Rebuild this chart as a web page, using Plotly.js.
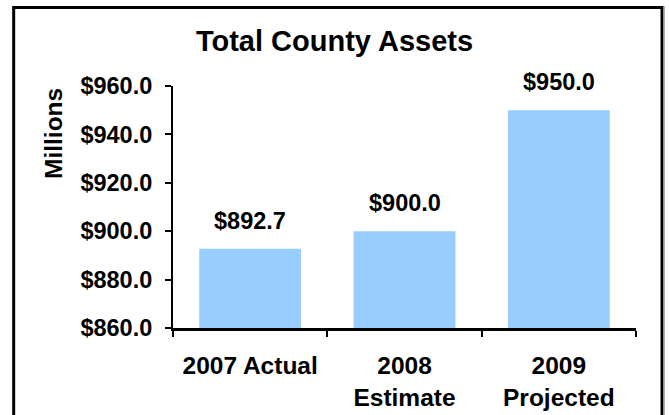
<!DOCTYPE html>
<html>
<head>
<meta charset="utf-8">
<script src="https://cdn.plot.ly/plotly-3.0.1.min.js"></script>
<style>html,body{margin:0;padding:0;background:#fff;}#chart{width:669px;height:415px;}</style>
</head>
<body>
<div id="chart"></div>
<script>
const categories = ['2007 Actual', '2008<br>Estimate', '2009<br>Projected'];
const values = [892.7, 900.0, 950.0];
const valueLabels = values.map(v => '$' + v.toFixed(1));
const yTickVals = [860, 880, 900, 920, 940, 960];
const chartTitle = 'Total County Assets';
const yTitle = 'Millions';

const FONT = 'Arial, "Liberation Sans", sans-serif';

const trace = {
  type: 'bar',
  x: categories,
  y: values,
  marker: {color: '#99CCFF', line: {width: 0}},
  hoverinfo: 'none'
};

const annotations = categories.map((c, i) => ({
  x: c, y: values[i], xref: 'x', yref: 'y',
  text: valueLabels[i], showarrow: false,
  yanchor: 'bottom', yshift: 13,
  font: {family: FONT, size: 23.5, color: '#000', weight: 'bold'}
}));
annotations.push({
  x: -0.257, y: 0.8017, xref: 'paper', yref: 'paper',
  text: yTitle, textangle: -90, showarrow: false,
  xanchor: 'center', yanchor: 'middle',
  font: {family: FONT, size: 24.5, color: '#000', weight: 'bold'}
});

const layout = {
  width: 669, height: 415,
  margin: {l: 173, r: 33, t: 86, b: 87},
  paper_bgcolor: '#fff', plot_bgcolor: '#fff',
  showlegend: false,
  bargap: 0.34,
  title: {
    text: chartTitle, x: 0.5, xref: 'container', xanchor: 'center',
    y: 1 - 41/415, yref: 'container', yanchor: 'middle',
    font: {family: FONT, size: 29, color: '#000', weight: 'bold'}
  },
  xaxis: {
    type: 'category',
    showline: true, linecolor: '#000', linewidth: 2.5,
    ticks: 'outside', tickson: 'boundaries', ticklen: 6, tickwidth: 2, tickcolor: '#000',
    showgrid: false, zeroline: false,
    ticklabelstandoff: 14,
    tickfont: {family: FONT, size: 24.5, color: '#000', weight: 'bold'}
  },
  yaxis: {
    range: [860, 960],
    tickvals: yTickVals,
    tickformat: '$.1f',
    showline: true, linecolor: '#000', linewidth: 2,
    ticks: 'outside', ticklen: 6, tickwidth: 2, tickcolor: '#000',
    showgrid: false, zeroline: false,
    ticklabelstandoff: 8,
    tickfont: {family: FONT, size: 23.5, color: '#000', weight: 'bold'}
  },
  annotations: annotations,
  shapes: [
    {type: 'rect', xref: 'paper', yref: 'paper',
     x0: -0.3441, x1: 1.0562, y0: -0.3802, y1: 1.3244,
     line: {color: '#000', width: 3}, fillcolor: 'rgba(0,0,0,0)', layer: 'above'},
    {type: 'line', xref: 'paper', yref: 'paper',
     x0: 1.0605, x1: 1.0605, y0: -0.3802, y1: 1.33,
     line: {color: '#999', width: 1.5}, layer: 'above'}
  ]
};

Plotly.newPlot('chart', [trace], layout, {staticPlot: true, displayModeBar: false});
</script>
</body>
</html>
